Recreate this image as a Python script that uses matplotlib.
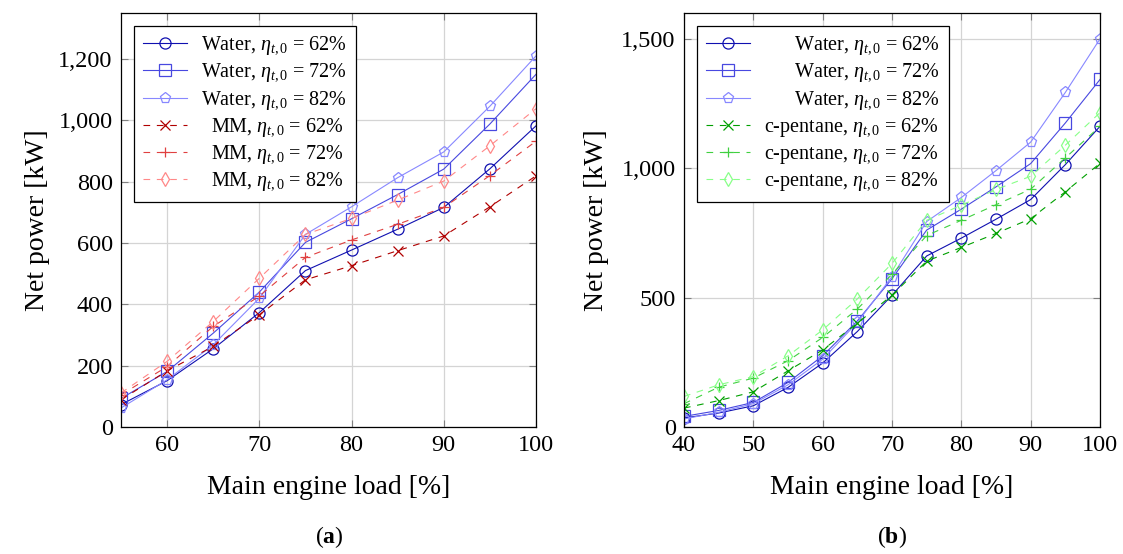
import numpy as np
import matplotlib
matplotlib.use("Agg")
import matplotlib.pyplot as plt
from matplotlib.ticker import StrMethodFormatter

plt.rcParams['font.family'] = ['Liberation Serif', 'DejaVu Serif']
plt.rcParams['mathtext.fontset'] = 'custom'
plt.rcParams['mathtext.rm'] = 'Liberation Serif'
plt.rcParams['mathtext.it'] = 'Liberation Serif:italic'
plt.rcParams['mathtext.bf'] = 'Liberation Serif:bold'

# (a) water vs MM
load_a = [55, 60, 65, 70, 75, 80, 85, 90, 95, 100]
water62_a = [73, 151, 255, 373, 510, 577, 645, 716, 842, 982]
water72_a = [93, 181, 306, 440, 602, 679, 758, 841, 988, 1150]
water82_a = [62, 154, 268, 420, 628, 718, 813, 897, 1046, 1210]
mm62 = [89, 183, 263, 366, 480, 526, 575, 623, 718, 819]
mm72 = [105, 197, 328, 427, 553, 610, 661, 716, 820, 932]
mm82 = [111, 214, 344, 485, 628, 680, 740, 802, 917, 1038]

# (b) water vs c-pentane
load_b = [40, 45, 50, 55, 60, 65, 70, 75, 80, 85, 90, 95, 100]
water62_b = [35, 54, 82, 153, 247, 369, 509, 661, 730, 803, 879, 1014, 1162]
water72_b = [41, 64, 95, 172, 275, 410, 573, 761, 842, 928, 1018, 1175, 1343]
water82_b = [31, 57, 90, 163, 262, 404, 581, 794, 887, 991, 1101, 1293, 1500]
cp62 = [73, 102, 136, 217, 298, 401, 509, 641, 694, 748, 805, 909, 1019]
cp72 = [90, 154, 189, 256, 346, 456, 590, 740, 799, 859, 919, 1040, 1162]
cp82 = [118, 163, 195, 275, 375, 495, 632, 799, 857, 918, 969, 1089, 1215]

eff = ['62', '72', '82']
blues = ['#1010b0', '#4848e0', '#8888ff']
reds = ['#b00000', '#e04040', '#ff8888']
greens = ['#00a000', '#40d040', '#88ff88']
water_mk = ['o', 's', 'p']
org_mk = ['x', '+', 'd']

fig = plt.figure(figsize=(11.23, 5.54), dpi=100)
ax_a = fig.add_axes([121/1123, 127/554, 415/1123, 414/554])
ax_b = fig.add_axes([684/1123, 127/554, 416/1123, 414/554])

dash = (0, (6, 6))


def draw(ax, x, water, org, org_name, org_colors, pad_w, pad_o):
    for i, y in enumerate(water):
        ax.plot(x, y, color=blues[i], lw=0.8, marker=water_mk[i], ms=8,
                mfc='none', mew=0.9,
                label=pad_w + r'Water, $\eta_{t,0}$ = ' + eff[i] + '%')
    for i, y in enumerate(org):
        ax.plot(x, y, color=org_colors[i], lw=0.8, ls=dash, marker=org_mk[i],
                ms=7, mfc='none', mew=0.9,
                label=pad_o + org_name + r', $\eta_{t,0}$ = ' + eff[i] + '%')
    ax.grid(True, color='#d4d4d4', lw=0.9)
    ax.set_axisbelow(True)
    ax.tick_params(direction='in', length=5, color='#808080', labelsize=17.5,
                   top=True, right=True, pad=6)
    for s in ax.spines.values():
        s.set_linewidth(0.9)
    ax.yaxis.set_major_formatter(StrMethodFormatter('{x:,.0f}'))
    ax.set_xlabel('Main engine load [%]', fontsize=20, va='center')
    ax.set_ylabel('Net power [kW]', fontsize=20, va='center')
    leg = ax.legend(loc='upper left', bbox_to_anchor=(0.031, 0.969),
                    borderaxespad=0, fontsize=14.5, fancybox=False,
                    edgecolor='black', framealpha=1, handlelength=2.2,
                    labelspacing=0.25, borderpad=0.45, handletextpad=0.7)
    leg.get_frame().set_linewidth(0.9)


draw(ax_a, load_a, [water62_a, water72_a, water82_a], [mm62, mm72, mm82],
     'MM', reds, '', '  ')
ax_a.set_xlim(55, 100)
ax_a.set_ylim(0, 1350)
ax_a.set_xticks([60, 70, 80, 90, 100])
ax_a.set_yticks(np.arange(0, 1201, 200))
ax_a.xaxis.set_label_coords(0.5, -0.145)
ax_a.yaxis.set_label_coords(-0.2, 0.5)

draw(ax_b, load_b, [water62_b, water72_b, water82_b], [cp62, cp72, cp82],
     'c-pentane', greens, '      ', '')
ax_b.set_xlim(40, 100)
ax_b.set_ylim(0, 1600)
ax_b.set_xticks([40, 50, 60, 70, 80, 90, 100])
ax_b.set_yticks([0, 500, 1000, 1500])
ax_b.xaxis.set_label_coords(0.5, -0.145)
ax_b.yaxis.set_label_coords(-0.21, 0.5)

fig.text(329/1123, 1 - 537/554, r'($\mathbf{a}$)', fontsize=17,
         ha='center', va='center')
fig.text(892/1123, 1 - 537/554, r'($\mathbf{b}$)', fontsize=17,
         ha='center', va='center')

fig.savefig('out.png', dpi=100)
